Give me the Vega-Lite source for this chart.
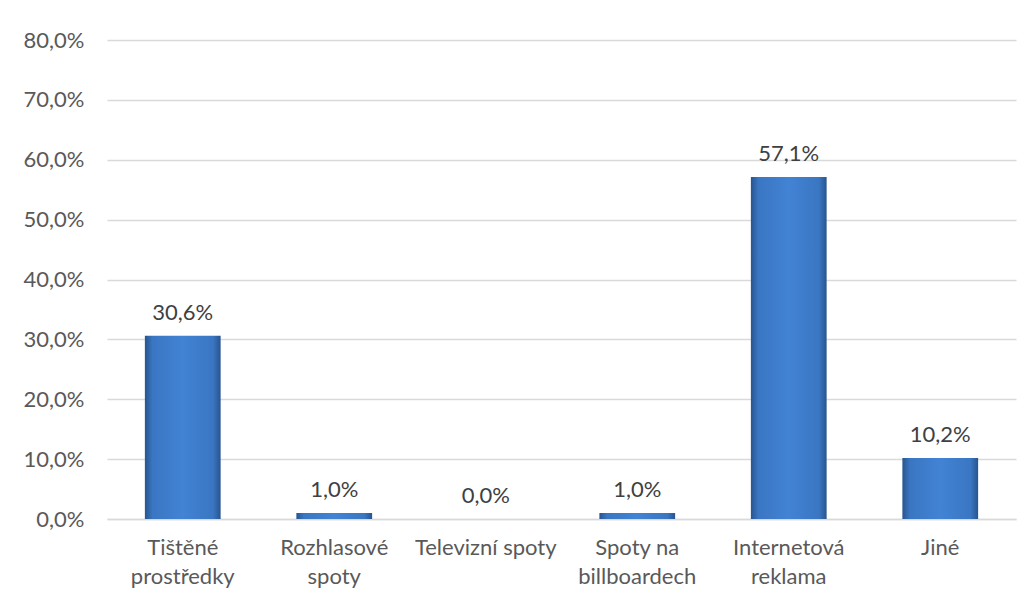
{
  "$schema": "https://vega.github.io/schema/vega-lite/v6.json",
  "width": 909,
  "height": 479,
  "autosize": {"type": "none"},
  "padding": {"left": 107, "top": 40, "right": 16, "bottom": 85},
  "background": "white",
  "config": {
    "view": {"stroke": null},
    "font": "Lato",
    "locale": {
      "number": {"decimal": ",", "thousands": " ", "grouping": [3], "currency": ["", " Kč"]}
    }
  },
  "data": {
    "values": [
      {"kategorie": "Tištěné prostředky", "podil": 0.306},
      {"kategorie": "Rozhlasové spoty", "podil": 0.010},
      {"kategorie": "Televizní spoty", "podil": 0.0},
      {"kategorie": "Spoty na billboardech", "podil": 0.010},
      {"kategorie": "Internetová reklama", "podil": 0.571},
      {"kategorie": "Jiné", "podil": 0.102}
    ]
  },
  "encoding": {
    "x": {
      "field": "kategorie",
      "type": "nominal",
      "sort": null,
      "scale": {"paddingInner": 0.5, "paddingOuter": 0.25},
      "axis": {
        "title": null,
        "labelAngle": 0,
        "ticks": false,
        "domainColor": "#d9d9d9",
        "domainWidth": 1.5,
        "labelColor": "#595959",
        "labelFontSize": 22,
        "labelPadding": 18,
        "labelLineHeight": 29,
        "labelBaseline": "top",
        "labelExpr": "datum.value == 'Televizní spoty' ? datum.value : datum.value == 'Spoty na billboardech' ? ['Spoty na', 'billboardech'] : split(datum.value, ' ')"
      }
    },
    "y": {
      "field": "podil",
      "type": "quantitative",
      "scale": {"domain": [0, 0.8], "nice": false},
      "axis": {
        "title": null,
        "values": [0, 0.1, 0.2, 0.3, 0.4, 0.5, 0.6, 0.7, 0.8],
        "format": ".1%",
        "domain": false,
        "ticks": false,
        "gridColor": "#d9d9d9",
        "gridWidth": 1.5,
        "labelColor": "#595959",
        "labelFontSize": 22,
        "labelPadding": 23
      }
    }
  },
  "layer": [
    {
      "mark": {
        "type": "bar",
        "strokeWidth": 0,
        "color": {
          "gradient": "linear",
          "x1": 0, "x2": 1, "y1": 0, "y2": 0,
          "stops": [
            {"offset": 0, "color": "#27558f"},
            {"offset": 0.1, "color": "#3a76c2"},
            {"offset": 0.5, "color": "#4283d4"},
            {"offset": 0.9, "color": "#3a76c2"},
            {"offset": 1, "color": "#27558f"}
          ]
        }
      }
    },
    {
      "mark": {"type": "text", "baseline": "alphabetic", "dy": -16, "fontSize": 22, "color": "#404040"},
      "encoding": {
        "text": {"field": "podil", "type": "quantitative", "format": ".1%"}
      }
    }
  ]
}
